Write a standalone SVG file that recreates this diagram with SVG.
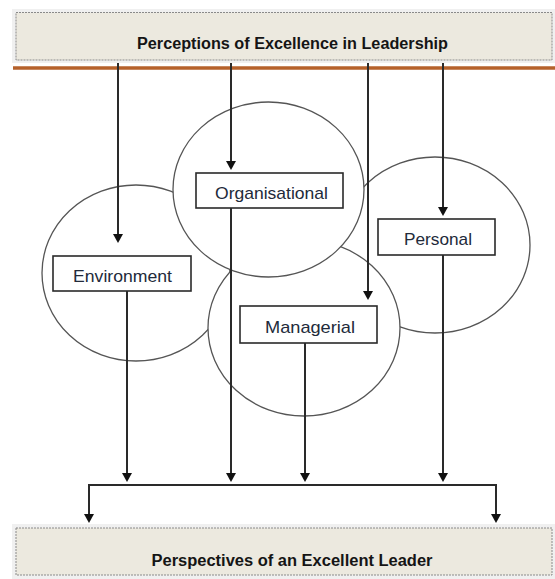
<svg xmlns="http://www.w3.org/2000/svg" width="555" height="579" viewBox="0 0 555 579">
  <style>
    .halo { fill: #f0f0f0; }
    .banner { fill: #ece9df; stroke: #8a8a8a; stroke-width: 1; stroke-dasharray: 2 1; }
    .title { font-family: "Liberation Sans", Arial, sans-serif; font-weight: bold; font-size: 16px; fill: #151515; text-anchor: middle; }
    .circ { fill: #ffffff; stroke: #555555; stroke-width: 1.3; }
    .box { fill: #ffffff; stroke: #2a2a2a; stroke-width: 1.6; }
    .lbl { font-family: "Liberation Sans", Arial, sans-serif; font-size: 17px; fill: #222a3a; text-anchor: middle; }
    .conn { fill: none; stroke: #2a2a2a; stroke-width: 2; }
  </style>
  <defs>
    <marker id="arr" markerUnits="userSpaceOnUse" markerWidth="10" markerHeight="10" refX="4" refY="5" orient="auto" viewBox="0 0 9 10">
      <path d="M0,0 L9,5 L0,10 z" fill="#111111"/>
    </marker>
  </defs>
  <rect width="555" height="579" fill="#ffffff"/>

  <g id="perceptions">
    <rect class="halo" x="12" y="9" width="543" height="54"/>
    <rect class="banner" x="16" y="12.5" width="536" height="47.5"/>
    <text class="title" x="292.5" y="49" textLength="311" lengthAdjust="spacingAndGlyphs">Perceptions of Excellence in Leadership</text>
    <line x1="13" y1="68" x2="555" y2="68" stroke="#b5612b" stroke-width="3.5"/>
  </g>

  <g id="perspectives">
    <rect class="halo" x="12" y="524" width="543" height="55"/>
    <rect class="banner" x="16" y="528" width="536" height="47"/>
    <text class="title" x="292" y="566" textLength="281" lengthAdjust="spacingAndGlyphs">Perspectives of an Excellent Leader</text>
  </g>

  <g id="personal">
    <ellipse class="circ" cx="435" cy="245" rx="95" ry="88"/>
    <rect class="box" x="378" y="219" width="117" height="36"/>
    <text class="lbl" x="438" y="245" textLength="68" lengthAdjust="spacingAndGlyphs">Personal</text>
  </g>

  <g id="environment">
    <ellipse class="circ" cx="136" cy="273" rx="94" ry="88"/>
    <rect class="box" x="53" y="256" width="138" height="35"/>
    <text class="lbl" x="122.5" y="282" textLength="99" lengthAdjust="spacingAndGlyphs">Environment</text>
  </g>

  <g id="managerial">
    <ellipse class="circ" cx="304" cy="328" rx="96" ry="88"/>
    <rect class="box" x="240" y="306" width="137" height="37"/>
    <text class="lbl" x="310" y="333" textLength="90" lengthAdjust="spacingAndGlyphs">Managerial</text>
  </g>

  <g id="organisational">
    <ellipse class="circ" cx="268.5" cy="189.5" rx="95.5" ry="87.5"/>
    <rect class="box" x="196" y="173" width="147" height="35"/>
    <text class="lbl" x="271.5" y="199" textLength="113" lengthAdjust="spacingAndGlyphs">Organisational</text>
  </g>

  <g id="connectors">
    <path class="conn" d="M118,63 V238" marker-end="url(#arr)"/>
    <path class="conn" d="M231,63 V165" marker-end="url(#arr)"/>
    <path class="conn" d="M368,63 V295" marker-end="url(#arr)"/>
    <path class="conn" d="M443,63 V211" marker-end="url(#arr)"/>
    <path class="conn" d="M127,291 V477" marker-end="url(#arr)"/>
    <path class="conn" d="M231,208 V477" marker-end="url(#arr)"/>
    <path class="conn" d="M305,343 V477" marker-end="url(#arr)"/>
    <path class="conn" d="M443,255 V477" marker-end="url(#arr)"/>
    <path class="conn" d="M300,485 H89 V518" marker-end="url(#arr)"/>
    <path class="conn" d="M299,485 H496 V518" marker-end="url(#arr)"/>
  </g>
</svg>
